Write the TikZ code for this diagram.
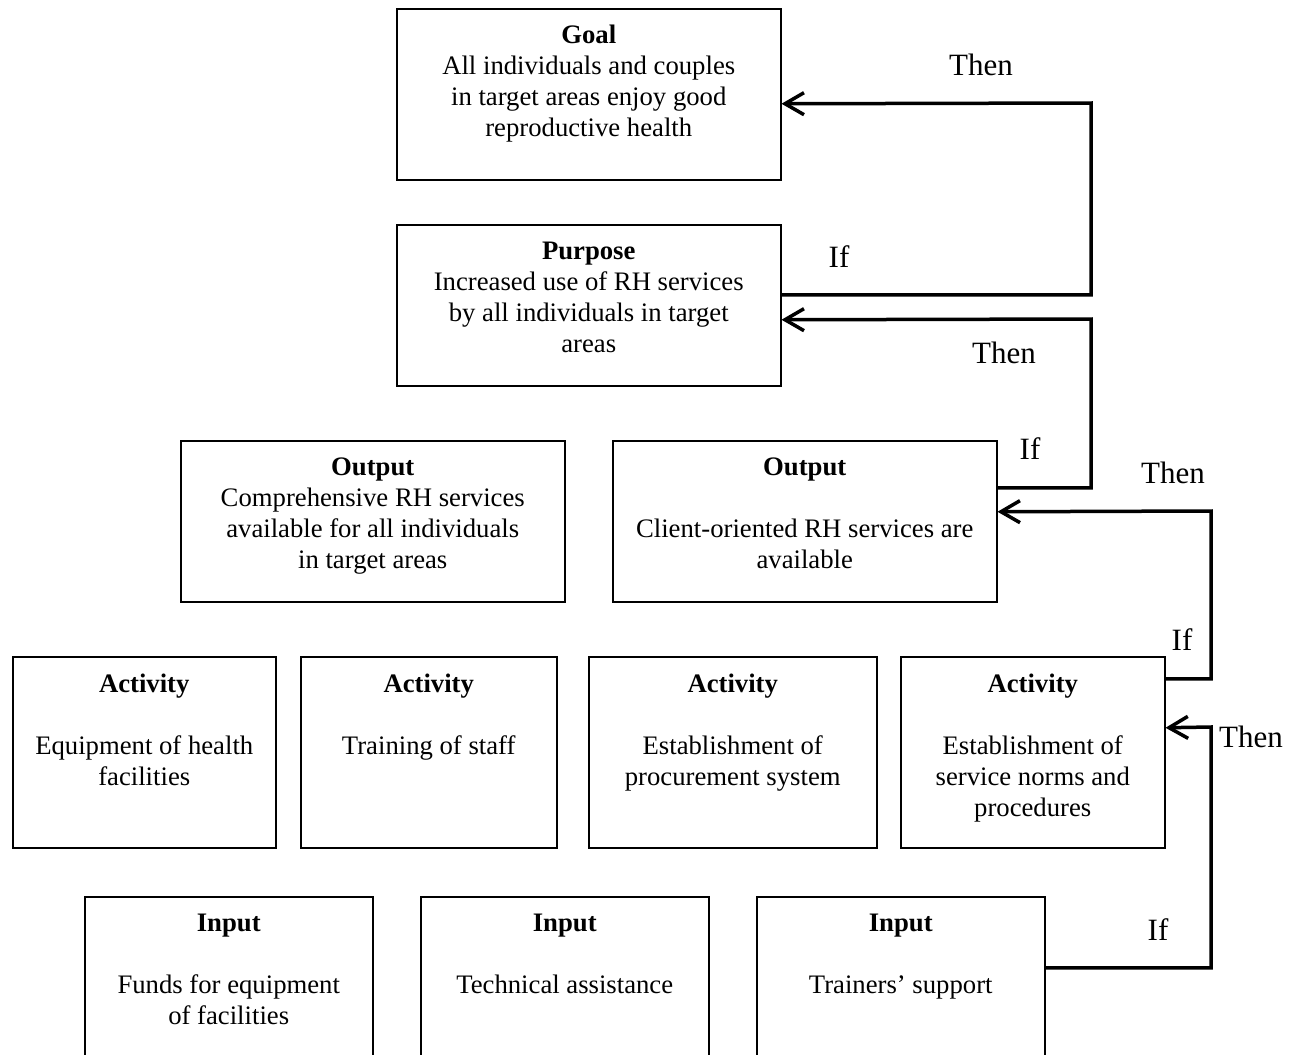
\documentclass[tikz,border=0pt]{standalone}
\usepackage{fontspec}
\setmainfont{Liberation Serif}
\usetikzlibrary{arrows.meta}

% fixed first-line height so every box text hangs from a known baseline
\newcommand\firstline{\rule{0pt}{25pt}}

\tikzset{
  frame/.style={draw=black, line width=1.5pt, rectangle, inner sep=0pt, anchor=north west},
  boxtext/.style={align=center, inner sep=0pt, anchor=north,
    font=\fontsize{26.7pt}{31pt}\selectfont},
  lbl/.style={inner sep=0pt, anchor=base, font=\fontsize{31pt}{36pt}\selectfont},
  conn/.style={draw=black, line width=3.5pt, line join=miter,
    -{Straight Barb[length=19pt,width=22pt,line width=3.5pt]}},
}

\begin{document}
\begin{tikzpicture}[x=1pt,y=-1pt]
\useasboundingbox (0,0) rectangle (1302,1055);

% boxes
\node[frame, minimum width=384pt, minimum height=171pt] (goal)     at (396,8)   {};
\node[frame, minimum width=384pt, minimum height=161pt] (purpose)  at (396,224) {};
\node[frame, minimum width=384pt, minimum height=161pt] (outA)     at (180,440) {};
\node[frame, minimum width=384pt, minimum height=161pt] (outB)     at (612,440) {};
\node[frame, minimum width=263pt, minimum height=191pt] (actA)     at (12,656)  {};
\node[frame, minimum width=256pt, minimum height=191pt] (actB)     at (300,656) {};
\node[frame, minimum width=288pt, minimum height=191pt] (actC)     at (588,656) {};
\node[frame, minimum width=264pt, minimum height=191pt] (actD)     at (900,656) {};
\node[frame, minimum width=288pt, minimum height=180pt] (inA)      at (84,896)  {};
\node[frame, minimum width=288pt, minimum height=180pt] (inB)      at (420,896) {};
\node[frame, minimum width=288pt, minimum height=180pt] (inC)      at (756,896) {};

% box texts
\node[boxtext] (goal-t) at ([yshift=-10pt]goal.north)
  {\firstline\textbf{Goal}\\All individuals and couples\\in target areas enjoy good\\reproductive health};
\node[boxtext] (purpose-t) at ([yshift=-10pt]purpose.north)
  {\firstline\textbf{Purpose}\\Increased use of RH services\\by all individuals in target\\areas};
\node[boxtext] (outA-t) at ([yshift=-10pt]outA.north)
  {\firstline\textbf{Output}\\Comprehensive RH services\\available for all individuals\\in target areas};
\node[boxtext] (outB-t) at ([yshift=-10pt]outB.north)
  {\firstline\textbf{Output}\\[31pt]Client-oriented RH services are\\available};
\node[boxtext] (actA-t) at ([yshift=-11pt]actA.north)
  {\firstline\textbf{Activity}\\[31pt]Equipment of health\\facilities};
\node[boxtext] (actB-t) at ([yshift=-11pt]actB.north)
  {\firstline\textbf{Activity}\\[31pt]Training of staff};
\node[boxtext] (actC-t) at ([yshift=-11pt]actC.north)
  {\firstline\textbf{Activity}\\[31pt]Establishment of\\procurement system};
\node[boxtext] (actD-t) at ([yshift=-11pt]actD.north)
  {\firstline\textbf{Activity}\\[31pt]Establishment of\\service norms and\\procedures};
\node[boxtext] (inA-t) at ([yshift=-10pt]inA.north)
  {\firstline\textbf{Input}\\[31pt]Funds for equipment\\of facilities};
\node[boxtext] (inB-t) at ([yshift=-10pt]inB.north)
  {\firstline\textbf{Input}\\[31pt]Technical assistance};
\node[boxtext] (inC-t) at ([yshift=-10pt]inC.north)
  {\firstline\textbf{Input}\\[31pt]Trainers’ support};

% corners of the if/then loops
\coordinate (k1) at (1091,103);
\coordinate (k2) at (1091,319);
\coordinate (k3) at (1211,511);
\coordinate (k4) at (1211,727);

% connectors
\draw[conn] ([yshift=10.5pt]purpose.east) -| (k1) -- ([yshift=-9.5pt]goal.east);
\draw[conn] ([yshift=33.5pt]outB.east) -| (k2) -- ([yshift=-14.5pt]purpose.east);
\draw[conn] ([yshift=73.5pt]actD.east) -| (k3) -- ([yshift=9.5pt]outB.east);
\draw[conn] ([yshift=19pt]inC.east) -| (k4) -- ([yshift=24.5pt]actD.east);

% labels
\node[lbl] (then1) at (981,75)  {Then};
\node[lbl] (if1)   at (839,267) {If};
\node[lbl] (then2) at (1004,363) {Then};
\node[lbl] (if2)   at (1030,459) {If};
\node[lbl] (then3) at (1173,483) {Then};
\node[lbl] (if3)   at (1182,650) {If};
\node[lbl] (then4) at (1251,747) {Then};
\node[lbl] (if4)   at (1158,940) {If};
\end{tikzpicture}
\end{document}
